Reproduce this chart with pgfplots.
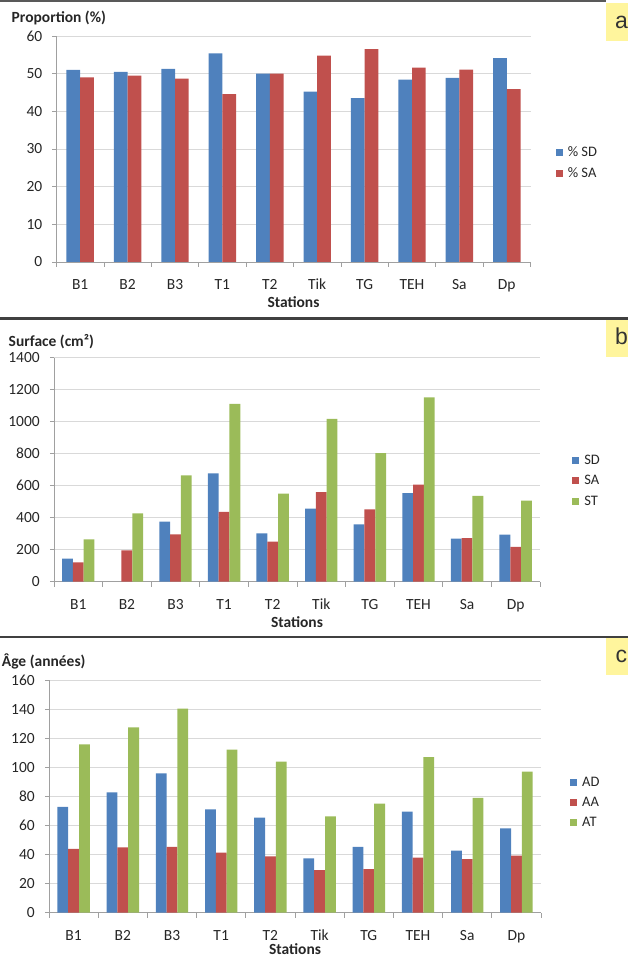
\documentclass[border=0pt]{standalone}
\usepackage{fontspec}
\setmainfont{Carlito}
\newfontfamily\tagfont{Liberation Sans}
\usepackage{pgfplots}
\pgfplotsset{compat=1.18}

\definecolor{xblue}{HTML}{4F81BD}
\definecolor{xred}{HTML}{C0504D}
\definecolor{xgreen}{HTML}{9BBB59}
\definecolor{gridc}{HTML}{D9D9D9}
\definecolor{axisc}{HTML}{A0A0A0}
\definecolor{tagyellow}{HTML}{FFF59D}

\pgfplotsset{
  excel/.style={
    scale only axis, anchor=south west,
    xmin=-0.5, xmax=9.5, ymin=0,
    xtick={0,...,9},
    xticklabels={B1,B2,B3,T1,T2,Tik,TG,TEH,Sa,Dp},
    minor xtick={-0.5,0.5,...,9.5},
    major x tick style={draw=none},
    tick align=outside,
    major tick length=4pt, minor tick length=5pt,
    tick style={axisc, line width=0.8pt},
    axis x line*=bottom, axis y line*=left,
    axis line style={axisc, line width=0.9pt, -},
    ymajorgrids, grid style={gridc, line width=0.8pt},
    ybar=0pt,
    /pgf/number format/assume math mode=true,
    /pgf/number format/1000 sep={},
    tick label style={font=\fontsize{15.5}{18}\selectfont, text=black!85},
    xticklabel style={anchor=base, inner sep=0pt, yshift=-24pt},
    yticklabel style={anchor=east, inner sep=0pt, xshift=-10pt},
    xlabel=Stations,
    every axis x label/.style={at={(rel axis cs:0.5,0)}, anchor=base, inner sep=0pt,
      font=\fontsize{15.5}{18}\selectfont\bfseries, text=black!85},
    every axis y label/.style={at={(rel axis cs:0,1)}, anchor=base west, inner sep=0pt,
      font=\fontsize{15.5}{18}\selectfont\bfseries, text=black!85},
    legend style={draw=none, fill=none, anchor=west, inner sep=0pt,
      font=\fontsize{14.5}{16}\selectfont, text=black!85, row sep=5.5pt, column sep=3pt},
    legend cell align=left,
    legend image code/.code={\fill[#1] (0pt,-3.5pt) rectangle (7pt,3.5pt);},
  }
}

\begin{document}
\begin{tikzpicture}[x=1pt, y=1pt]
\useasboundingbox (0,0) rectangle (628,959);

% frame lines and panel tags
\draw[black!65, line width=2.5pt] (0,957.8) -- (606,957.8);
\draw[black!75, line width=2.3pt] (0,640.5) -- (628,640.5);
\draw[black!75, line width=2.3pt] (0,322) -- (628,322);
\fill[tagyellow] (606,956) rectangle (628,918);
\fill[tagyellow] (606,639) rectangle (628,601.7);
\fill[tagyellow] (606,320.7) rectangle (628,284);
\node[anchor=base west, inner sep=0pt, text=black!80, font=\fontsize{23}{26}\selectfont\tagfont] at (615,930.7) {a};
\node[anchor=base west, inner sep=0pt, text=black!80, font=\fontsize{23}{26}\selectfont\tagfont] at (615,614) {b};
\node[anchor=base west, inner sep=0pt, text=black!80, font=\fontsize{23}{26}\selectfont\tagfont] at (615.5,296.3) {c};

% (a) proportions
\begin{axis}[excel, at={(56.5pt,697pt)}, width=474pt, height=226pt,
    ymax=60, ytick={0,10,...,60}, bar width=13.7pt,
    ylabel={Proportion (\%)}, ylabel style={xshift=-45pt, yshift=13pt},
    xlabel style={yshift=-45.5pt},
    legend style={at={(rel axis cs:1.053,0.438)}}]
\addplot[fill=xblue, draw=none] coordinates {
  (0,51.0) (1,50.5) (2,51.3) (3,55.4) (4,50.0) (5,45.2) (6,43.5) (7,48.4) (8,48.9) (9,54.1)};
\addlegendentry{\% SD}
\addplot[fill=xred, draw=none] coordinates {
  (0,49.0) (1,49.5) (2,48.7) (3,44.6) (4,50.0) (5,54.8) (6,56.5) (7,51.6) (8,51.1) (9,45.9)};
\addlegendentry{\% SA}
\end{axis}

% (b) surfaces
\begin{axis}[excel, at={(54pt,377.3pt)}, width=486pt, height=224pt,
    ymax=1400, ytick={0,200,...,1400}, bar width=10.8pt,
    ylabel={Surface (cm²)}, ylabel style={xshift=-45.5pt, yshift=11pt},
    xlabel style={yshift=-45.5pt},
    legend style={at={(rel axis cs:1.066,0.451)}}]
\addplot[fill=xblue, draw=none] coordinates {
  (0,144) (2,375) (3,677) (4,302) (5,456) (6,358) (7,554) (8,269) (9,294)};
\addlegendentry{SD}
\addplot[fill=xred, draw=none] coordinates {
  (0,121) (1,196) (2,296) (3,437) (4,250) (5,560) (6,452) (7,606) (8,273) (9,217)};
\addlegendentry{SA}
\addplot[fill=xgreen, draw=none] coordinates {
  (0,265) (1,427) (2,665) (3,1112) (4,550) (5,1017) (6,804) (7,1152) (8,537) (9,506)};
\addlegendentry{ST}
\end{axis}

% (c) ages
\begin{axis}[excel, at={(49pt,46.3pt)}, width=492pt, height=232.7pt,
    ymax=160, ytick={0,20,...,160}, bar width=10.8pt,
    ylabel={Âge (années)}, ylabel style={xshift=-47.3pt, yshift=14pt},
    xlabel style={yshift=-42pt},
    legend style={at={(rel axis cs:1.059,0.473)}}]
\addplot[fill=xblue, draw=none] coordinates {
  (0,72.7) (1,82.8) (2,95.8) (3,71.1) (4,65.3) (5,37.4) (6,45.2) (7,69.5) (8,42.6) (9,58.0)};
\addlegendentry{AD}
\addplot[fill=xred, draw=none] coordinates {
  (0,43.8) (1,44.9) (2,45.2) (3,41.3) (4,38.7) (5,29.3) (6,30.0) (7,37.8) (8,36.9) (9,39.2)};
\addlegendentry{AA}
\addplot[fill=xgreen, draw=none] coordinates {
  (0,115.8) (1,127.4) (2,140.3) (3,112.1) (4,103.8) (5,66.2) (6,75.0) (7,107.0) (8,78.9) (9,97.0)};
\addlegendentry{AT}
\end{axis}
\end{tikzpicture}
\end{document}
